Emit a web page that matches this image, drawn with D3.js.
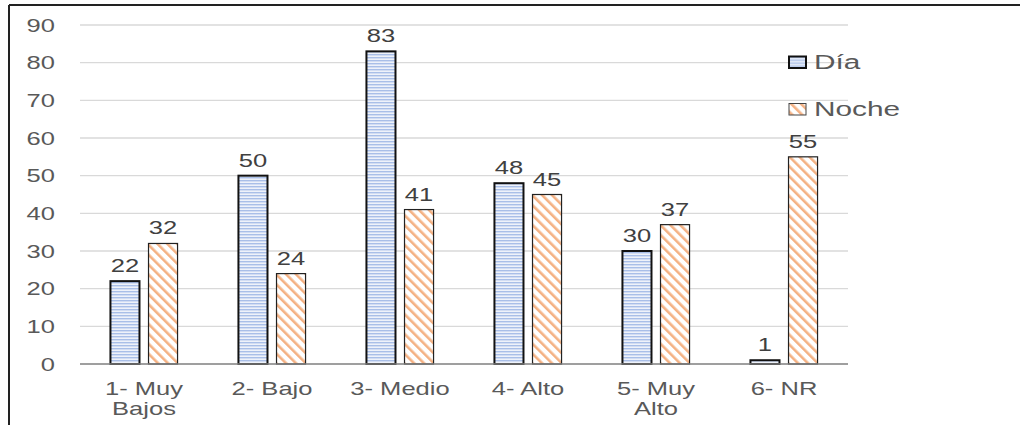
<!DOCTYPE html>
<html>
<head>
<meta charset="utf-8">
<script src="https://cdn.jsdelivr.net/npm/d3@7/dist/d3.min.js"></script>
<style>
  html, body { margin: 0; padding: 0; background: #fff; }
  svg { display: block; font-family: "Liberation Sans", Arial, sans-serif; }
</style>
</head>
<body>
<svg id="chart" width="1020" height="425"></svg>
<script>
const categories = ["1- Muy\nBajos", "2- Bajo", "3- Medio", "4- Alto", "5- Muy\nAlto", "6- NR"];
const series = ["Día", "Noche"];
const diaValues = [22, 50, 83, 48, 30, 1];
const nocheValues = [32, 24, 41, 45, 37, 55];
const yTicks = [0, 10, 20, 30, 40, 50, 60, 70, 80, 90];

const svg = d3.select("#chart");
const W = 1020, H = 425;
const margin = { left: 80, right: 172, top: 25, bottom: 61 };
const plotW = W - margin.left - margin.right;
const STRETCH = 1.42; // wide lettering

// Text placed at (x, y) with horizontally widened glyphs
function wideText(parent, x, y, str, size, fill, anchor) {
  return parent.append("text")
    .attr("transform", `translate(${x},${y}) scale(${STRETCH},1)`)
    .attr("text-anchor", anchor || "middle")
    .attr("font-size", size).attr("fill", fill).text(str);
}

// Frame: top and left border lines
svg.append("line").attr("x1", 9).attr("x2", W).attr("y1", 5).attr("y2", 5)
  .attr("stroke", "#222").attr("stroke-width", 2);
svg.append("line").attr("x1", 9).attr("x2", 9).attr("y1", 5).attr("y2", H)
  .attr("stroke", "#222").attr("stroke-width", 2);

// Fill patterns: horizontal blue stripes and diagonal orange stripes
const defs = svg.append("defs");
const pDia = defs.append("pattern").attr("id", "pDia")
  .attr("patternUnits", "userSpaceOnUse").attr("width", 6).attr("height", 3);
pDia.append("rect").attr("width", 6).attr("height", 3).attr("fill", "#eef2fa");
pDia.append("rect").attr("y", 0).attr("width", 6).attr("height", 1).attr("fill", "#a9bfe8");
pDia.append("rect").attr("y", 1).attr("width", 6).attr("height", 1).attr("fill", "#d2ddf3");

const pNoche = defs.append("pattern").attr("id", "pNoche")
  .attr("patternUnits", "userSpaceOnUse").attr("width", 7).attr("height", 7)
  .attr("patternTransform", "rotate(-45)");
pNoche.append("rect").attr("width", 7).attr("height", 7).attr("fill", "#fff");
pNoche.append("rect").attr("x", 0).attr("width", 2.6).attr("height", 7).attr("fill", "#f4b183");

const y = d3.scaleLinear().domain([0, 90]).range([364, 25]);
const x0 = d3.scaleBand().domain(categories).range([margin.left, margin.left + plotW]).paddingInner(0).paddingOuter(0);
const x1 = d3.scaleBand().domain(series).range([0, x0.bandwidth()]).paddingInner(0.237).paddingOuter(0.8);

// Gridlines
svg.append("g").selectAll("line").data(yTicks.filter(d => d > 0)).join("line")
  .attr("x1", margin.left).attr("x2", margin.left + plotW)
  .attr("y1", d => y(d)).attr("y2", d => y(d))
  .attr("stroke", "#d9d9d9").attr("stroke-width", 1.3);

// Y axis labels
const yAxisG = svg.append("g");
yTicks.forEach(t => wideText(yAxisG, 55, y(t) + 6.5, t, 18, "#595959", "end"));

// Bars
const data = categories.map((c, i) => ({ c, vals: [
  { s: "Día", v: diaValues[i] }, { s: "Noche", v: nocheValues[i] } ] }));

const groups = svg.append("g").selectAll("g").data(data).join("g")
  .attr("transform", d => `translate(${x0(d.c)},0)`);

groups.selectAll("rect").data(d => d.vals).join("rect")
  .attr("x", d => x1(d.s)).attr("width", x1.bandwidth())
  .attr("y", d => y(d.v)).attr("height", d => y(0) - y(d.v))
  .attr("fill", d => d.s === "Día" ? "url(#pDia)" : "url(#pNoche)")
  .attr("stroke", d => d.s === "Día" ? "#111" : "#222")
  .attr("stroke-width", d => d.s === "Día" ? 2 : 1.2);

groups.each(function(d) {
  const g = d3.select(this);
  d.vals.forEach(v => wideText(g, x1(v.s) + x1.bandwidth() / 2, y(v.v) - 9, v.v, 18, "#404040"));
});

// Baseline axis
svg.append("line").attr("x1", margin.left).attr("x2", margin.left + plotW)
  .attr("y1", y(0)).attr("y2", y(0)).attr("stroke", "#7f7f7f").attr("stroke-width", 1.5);

// Category labels
const catG = svg.append("g");
categories.forEach(c => {
  c.split("\n").forEach((p, i) =>
    wideText(catG, x0(c) + x0.bandwidth() / 2, 395 + i * 19.5, p, 18, "#595959"));
});

// Legend
const legendTop = [56.5, 103.5];
const legend = svg.append("g").selectAll("g").data(series).join("g")
  .attr("transform", (d, i) => `translate(789,${legendTop[i]})`);
legend.append("rect").attr("width", 17).attr("height", 11.5)
  .attr("fill", d => d === "Día" ? "url(#pDia)" : "url(#pNoche)")
  .attr("stroke", d => d === "Día" ? "#111" : "#444")
  .attr("stroke-width", d => d === "Día" ? 2 : 1);
legend.each(function(d) {
  wideText(d3.select(this), 25, 12.5, d, 21, "#595959", "start");
});
</script>
</body>
</html>
